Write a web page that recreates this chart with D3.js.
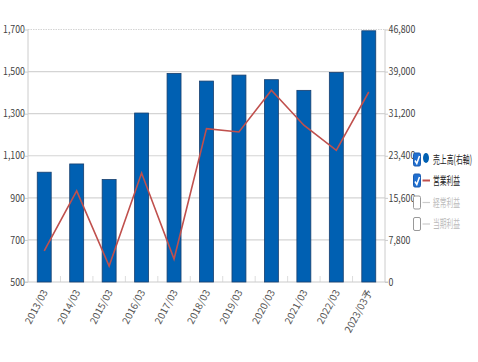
<!DOCTYPE html>
<html><head><meta charset="utf-8">
<script src="https://cdn.jsdelivr.net/npm/d3@7/dist/d3.min.js"></script>
<style>
body{margin:0;background:#fff;}
text{font-family:"Liberation Sans Narrow","Noto Sans CJK JP",sans-serif;}
</style></head>
<body><svg id="c" width="478" height="362"></svg>
<script>
const categories=["2013/03","2014/03","2015/03","2016/03","2017/03","2018/03","2019/03","2020/03","2021/03","2022/03","2023/03予"];
const sales=[20350,21880,19000,31320,38660,37240,38350,37500,35520,38850,46560];
const opProfit=[648,933,576,1018,609,1229,1213,1411,1245,1126,1403];
const leftTicks=[500,700,900,1100,1300,1500,1700];
const rightTicks=[0,7800,15600,23400,31200,39000,46800];
const legendItems=[{name:"売上高(右軸)",on:true,type:"dot",w:39},{name:"営業利益",on:true,type:"line",w:27},{name:"経常利益",on:false,type:"line",w:27},{name:"当期利益",on:false,type:"line",w:27}];

const svg=d3.select("#c");
const L=28,R=385,T=29.5,B=282;
const x=d3.scaleBand().domain(categories).range([L,R]).paddingInner(0.57).paddingOuter(0.285);
const yL=d3.scaleLinear().domain([500,1700]).range([B,T]);
const yR=d3.scaleLinear().domain([0,46800]).range([B,T]);
const fmt=d3.format(",");

svg.append("g").selectAll("line").data(leftTicks.slice(1)).join("line")
 .attr("x1",L).attr("x2",R).attr("y1",d=>yL(d)).attr("y2",d=>yL(d))
 .attr("stroke","#d4d4d4").attr("stroke-width",1.2)
 .attr("stroke-dasharray",d=>d===1700?"1.5,1":null);

const step=x.step();
svg.append("g").selectAll("line").data(d3.range(1,categories.length)).join("line")
 .attr("x1",d=>L+d*step).attr("x2",d=>L+d*step).attr("y1",B-6).attr("y2",B)
 .attr("stroke","#ddd");

svg.append("line").attr("x1",L).attr("x2",L).attr("y1",T).attr("y2",B).attr("stroke","#ccc");
svg.append("line").attr("x1",R).attr("x2",R).attr("y1",T).attr("y2",B).attr("stroke","#ccc");
svg.append("line").attr("x1",L-3).attr("x2",R+3).attr("y1",B).attr("y2",B).attr("stroke","#ccc").attr("stroke-width",1.2);

const ax=svg.append("g").attr("transform",`translate(${L},0)`).call(d3.axisLeft(yL).tickValues(leftTicks).tickFormat(fmt).tickSize(3));
ax.select(".domain").remove();
ax.selectAll("line").attr("stroke","#ccc");
ax.selectAll("text").attr("fill","#444").style("font-size","10px").attr("x",0).attr("transform","translate(-3,0) scale(0.88,1)");

const ar=svg.append("g").attr("transform",`translate(${R},0)`).call(d3.axisRight(yR).tickValues(rightTicks).tickFormat(fmt).tickSize(3));
ar.select(".domain").remove();
ar.selectAll("line").attr("stroke","#ccc");
ar.selectAll("text").attr("fill","#444").style("font-size","10px").attr("x",0).attr("transform","translate(3.5,0) scale(0.88,1)");

svg.append("g").selectAll("rect").data(categories).join("rect")
 .attr("x",d=>x(d)).attr("width",x.bandwidth())
 .attr("y",(d,i)=>yR(sales[i])).attr("height",(d,i)=>B-yR(sales[i]))
 .attr("fill","#0060b2").attr("stroke","#173f6e").attr("stroke-width",0.8);

const line=d3.line().x((d,i)=>x(categories[i])+x.bandwidth()/2).y(d=>yL(d));
svg.append("path").datum(opProfit).attr("d",line).attr("fill","none")
 .attr("stroke","#c0504d").attr("stroke-width",1.6);

svg.append("g").selectAll("text").data(categories).join("text")
 .attr("transform",d=>`translate(${x(d)+x.bandwidth()/2+4},${B+10}) rotate(-62)`)
 .attr("text-anchor","end").attr("fill","#555").style("font-size","10px").text(d=>d);

const rowsY=[159.5,180.5,202.5,224];
legendItems.forEach((it,i)=>{
 const g=svg.append("g").attr("transform",`translate(413,${rowsY[i]})`);
 g.append("rect").attr("x",0.5).attr("y",-6.5).attr("width",7).attr("height",13).attr("rx",1.5)
  .attr("fill",it.on?"#1f6fd0":"#fff").attr("stroke",it.on?"#1a5bb0":"#999");
 if(it.on) g.append("path").attr("d","M2,1 L3.8,4 L6.5,-3.5").attr("fill","none").attr("stroke","#fff").attr("stroke-width",1.5);
 if(it.type==="dot") g.append("ellipse").attr("cx",13).attr("cy",-1.5).attr("rx",3).attr("ry",5).attr("fill","#0060b2");
 else g.append("line").attr("x1",9.5).attr("x2",17).attr("y1",0).attr("y2",0)
  .attr("stroke",it.on?"#c0504d":"#ccc").attr("stroke-width",it.on?2:1.2);
 const t=g.append("text").attr("fill",it.on?"#222":"#bbb").style("font-size","11.5px").text(it.name);
 const nat=t.node().getComputedTextLength();
 t.attr("transform",`translate(20,4) scale(${it.w/nat},1)`);
});
</script></body></html>
